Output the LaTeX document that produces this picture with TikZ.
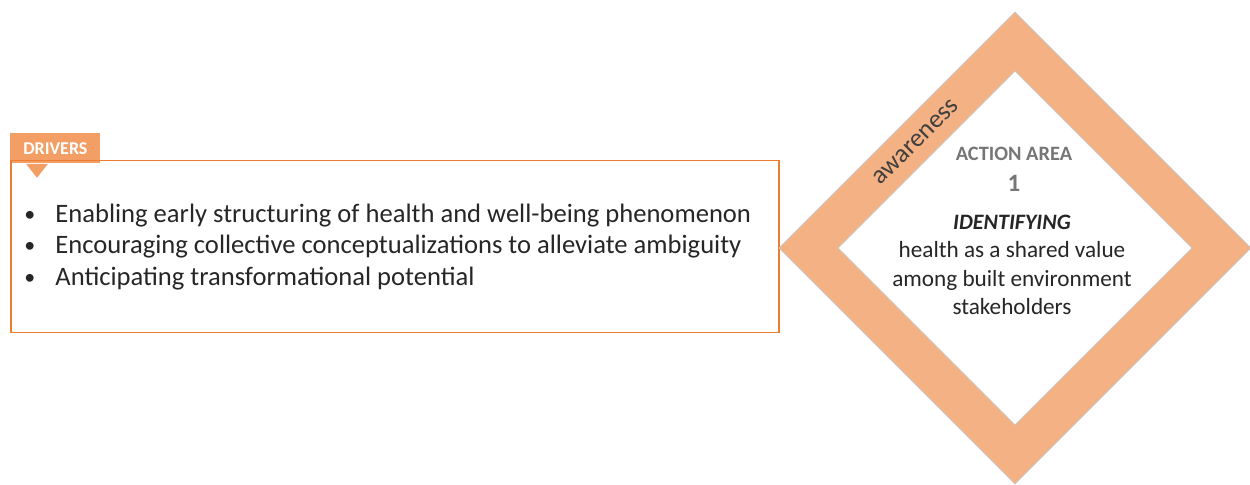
\documentclass[tikz,border=0pt]{standalone}
\usepackage{fontspec}
\setmainfont{Carlito}
\usetikzlibrary{positioning,shapes.geometric}
\definecolor{drvorange}{HTML}{ED7D31}
\definecolor{bandorange}{HTML}{F4B183}
\definecolor{areagray}{HTML}{767676}
\definecolor{txtgray}{HTML}{262626}
\tikzset{
    itemtext/.style={anchor=west, inner sep=0pt, text=txtgray,
                     font=\fontsize{13.3}{15}\selectfont},
    areatext/.style={inner sep=0pt, text=areagray, font=\bfseries\fontsize{10.2}{12}\selectfont},
}

\begin{document}
\begin{tikzpicture}[x=0.5pt, y=-0.5pt]
                    \useasboundingbox (0,0) rectangle (1250,485);
                    % drivers panel
                    \node (drivers) [draw=drvorange, line width=0.75pt, inner sep=0pt,
                                     minimum width=384pt, minimum height=86pt,
                                     anchor=north west] at (10,160) {};
                    \node (tab) [fill=drvorange, fill opacity=0.75, text opacity=1,
                                 text=white, inner sep=0pt, minimum width=45pt,
                                 minimum height=15pt, anchor=north west,
                                 font=\bfseries\fontsize{9}{11}\selectfont] at (10,133) {DRIVERS};
                    \fill [drvorange, fill opacity=0.75] (tab.south west) ++(16,0)
                        -- ++(22,0) -- ++(-11,14) -- cycle;
                    \foreach \Y/\Text in {%
                        216/Enabling early structuring of health and well-being phenomenon,
                        247/Encouraging collective conceptualizations to alleviate ambiguity,
                        279/Anticipating transformational potential%
                        }{
                        \node (dot\Y) [itemtext, font=\fontsize{11}{13}\selectfont] at (24,\Y) {•};
                        \node (item\Y) [itemtext] at (55,\Y) {\Text};
                    }
                    % action area diamond
                    \node (outer) [diamond, aspect=1, fill=bandorange, draw=gray!45,
                                   line width=0.4pt, inner sep=0pt,
                                   minimum width=236pt, minimum height=236pt] at (1015,248) {};
                    \node (inner) [diamond, aspect=1, fill=white, draw=gray!45,
                                   line width=0.4pt, inner sep=0pt,
                                   minimum width=177pt, minimum height=177pt] at (outer.center) {};
                    \node (aware) [rotate=45, inner sep=0pt, text=black!75,
                                   font=\fontsize{13}{15}\selectfont] at (916,142) {awareness};
                    \node (area) [areatext] at (1014,154) {ACTION AREA};
                    \node (num) [areatext, font=\bfseries\fontsize{12.5}{14}\selectfont] at (1014,183) {1};
                    \node (what) [inner sep=0pt, align=center, text=txtgray,
                                  font=\fontsize{11.6}{14.25}\selectfont] at (1012,265)
                        {{\fontsize{11}{14.25}\selectfont\textbf{\textit{IDENTIFYING}}}\\health as a shared value\\among built environment\\stakeholders};
                \end{tikzpicture}
\end{document}
